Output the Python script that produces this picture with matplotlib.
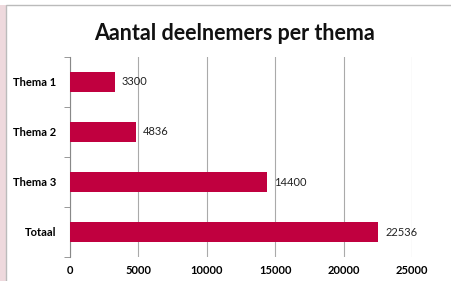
import matplotlib.pyplot as plt
from matplotlib.patches import Rectangle

categories = ["Thema 1", "Thema 2", "Thema 3", "Totaal"]
values = [3300, 4836, 14400, 22536]
xticks = [0, 5000, 10000, 15000, 20000, 25000]

plt.rcParams['font.family'] = ['Lato', 'DejaVu Sans']

fig = plt.figure(figsize=(4.52, 2.81), dpi=100)
fig.patch.set_facecolor('#EED9DD')

# white chart area with a thin gray border
W, H = 452, 281
fig.patches.append(Rectangle((0, (H - 5) / H), 1, 5 / H,
                             transform=fig.transFigure, facecolor='white',
                             edgecolor='none', zorder=-2))
fig.patches.append(Rectangle((6 / W, -0.01), (W - 6) / W, (H - 5) / H + 0.01,
                             transform=fig.transFigure, facecolor='white',
                             edgecolor='#BBBBBB', linewidth=1, zorder=-1))

ax = fig.add_axes([70 / W, 24 / H, 342 / W, 200 / H])
ax.set_facecolor('none')

y = list(range(len(categories)))
ax.barh(y, values, height=0.4, color='#C0003F', zorder=3)
for yi, v in zip(y, values):
    ax.text(v + 500, yi, str(v), va='center', ha='left', fontsize=8, color='#222222')

ax.set_xlim(0, 25000)
ax.set_ylim(3.5, -0.5)
ax.set_xticks(xticks)
ax.set_xticklabels([str(t) for t in xticks], fontsize=8, fontweight='bold')
ax.set_yticks(y)
ax.set_yticklabels(categories, fontsize=8, fontweight='bold')
ax.tick_params(axis='y', length=0, pad=10)
ax.tick_params(axis='x', length=0, pad=6)
ax.set_yticks([-0.5, 0.5, 1.5, 2.5, 3.5], minor=True)
ax.tick_params(axis='y', which='minor', length=4, color='#888888', direction='out')

ax.grid(axis='x', color='#AAAAAA', linewidth=0.8, zorder=0)
for s in ['top', 'right', 'bottom']:
    ax.spines[s].set_visible(False)
ax.spines['left'].set_color('#888888')
ax.spines['left'].set_linewidth(0.8)

fig.text(235 / W, 1 - 33 / H, "Aantal deelnemers per thema", ha='center', va='center',
         fontsize=15.5, fontweight='bold', color='#111111')

fig.savefig('out.png', dpi=100, facecolor=fig.get_facecolor())
